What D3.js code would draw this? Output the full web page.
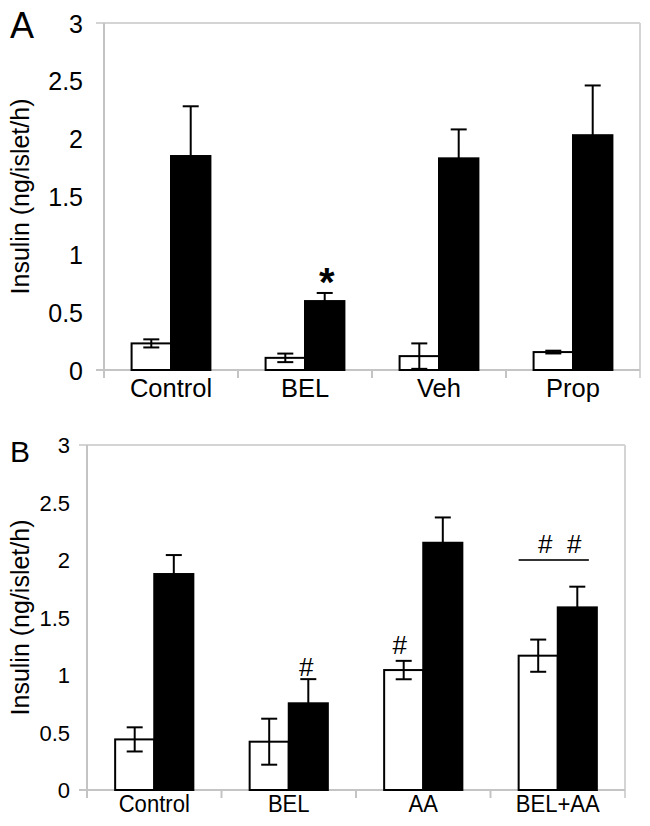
<!DOCTYPE html>
<html>
<head>
<meta charset="utf-8">
<script src="https://cdn.jsdelivr.net/npm/d3@7"></script>
<style>
  html, body { margin: 0; padding: 0; background: #fff; }
  svg { display: block; }
  text { font-family: "Liberation Sans", Arial, sans-serif; fill: #000; }
</style>
</head>
<body>
<svg id="chart" width="650" height="826"></svg>
<script>
// ---------- data ----------
const seriesKeys = ["basal", "stim"];
const yTicks = [0, 0.5, 1, 1.5, 2, 2.5, 3];
const yLabel = "Insulin (ng/islet/h)";

const catsA = ["Control", "BEL", "Veh", "Prop"];
const basalA = [0.23, 0.105, 0.12, 0.155];
const basalErrA = [0.035, 0.037, 0.11, 0.012];
const stimA = [1.85, 0.596, 1.83, 2.03];
const stimErrA = [0.43, 0.07, 0.25, 0.43];
const marksA = [{ cat: "BEL", series: "stim", text: "*" }];

const catsB = ["Control", "BEL", "AA", "BEL+AA"];
const basalB = [0.44, 0.42, 1.043, 1.168];
const basalErrB = [0.105, 0.2, 0.08, 0.14];
const stimB = [1.878, 0.754, 2.15, 1.588];
const stimErrB = [0.165, 0.21, 0.22, 0.18];
const marksB = [
  { cat: "BEL", series: "stim", text: "#" },
  { cat: "AA", series: "basal", text: "#" }
];
const groupMarkB = { cat: "BEL+AA", level: 2.0, text: "#\u00a0\u00a0#" };

// ---------- drawing ----------
const svg = d3.select("#chart");

function panel(cfg) {
  const g = svg.append("g");
  const x0 = d3.scaleBand().domain(cfg.cats).range([cfg.left, cfg.right]).paddingInner(0).paddingOuter(0);
  const x1 = d3.scaleBand().domain(seriesKeys).range([0, x0.bandwidth()]).paddingInner(0).paddingOuter(cfg.outerPad);
  const y = d3.scaleLinear().domain([0, 3]).range([cfg.bottom, cfg.top]);

  // frame (light gray)
  g.append("line").attr("x1", cfg.left - 8).attr("x2", cfg.right).attr("y1", y(3)).attr("y2", y(3))
    .attr("stroke", "#d4d4d4").attr("stroke-width", 2);
  g.append("line").attr("x1", cfg.right).attr("x2", cfg.right).attr("y1", y(3)).attr("y2", cfg.bottom + 8)
    .attr("stroke", "#d4d4d4").attr("stroke-width", 2);
  g.append("line").attr("x1", cfg.left).attr("x2", cfg.left).attr("y1", y(3)).attr("y2", cfg.bottom + 8)
    .attr("stroke", "#c4c4c4").attr("stroke-width", 2);
  g.append("line").attr("x1", cfg.left - 8).attr("x2", cfg.right).attr("y1", y(0)).attr("y2", y(0))
    .attr("stroke", "#c4c4c4").attr("stroke-width", 2);
  // category boundary ticks
  g.selectAll(".xt").data(cfg.cats.slice(1)).enter().append("line")
    .attr("x1", d => x0(d)).attr("x2", d => x0(d))
    .attr("y1", y(0)).attr("y2", y(0) + 8)
    .attr("stroke", "#c4c4c4").attr("stroke-width", 2);

  // y tick labels via axis
  const ax = g.append("g").attr("transform", `translate(${cfg.left},0)`)
    .call(d3.axisLeft(y).tickValues(yTicks).tickSize(0).tickPadding(cfg.tickPad).tickFormat(d3.format("")));
  ax.select(".domain").remove();
  ax.selectAll("text").style("font-family", '"Liberation Sans", Arial, sans-serif')
    .style("font-size", cfg.tickFont + "px").attr("fill", "#000").attr("dy", "0.36em");

  // y label
  g.append("text")
    .attr("transform", `translate(${cfg.titleX},${(y(0) + y(3)) / 2 + cfg.titleDy}) rotate(-90)`)
    .attr("text-anchor", "middle").style("font-size", "25px").text(yLabel);

  // panel letter
  g.append("text").attr("x", 10).attr("y", cfg.letterY).style("font-size", cfg.letterFont + "px").text(cfg.letter);

  // bars
  const rows = cfg.cats.map((c, i) => ({
    cat: c,
    basal: cfg.basal[i], basalErr: cfg.basalErr[i],
    stim: cfg.stim[i], stimErr: cfg.stimErr[i]
  }));
  const bw = x1.bandwidth();
  rows.forEach(r => {
    seriesKeys.forEach(k => {
      const xl = x0(r.cat) + x1(k);
      const v = r[k], e = r[k + "Err"];
      g.append("rect").attr("x", xl).attr("y", y(v)).attr("width", bw).attr("height", y(0) - y(v))
        .attr("fill", k === "basal" ? "#fff" : "#000").attr("stroke", "#000").attr("stroke-width", 2);
      const xc = xl + bw / 2;
      g.append("line").attr("x1", xc).attr("x2", xc).attr("y1", y(v - e)).attr("y2", y(v + e))
        .attr("stroke", "#000").attr("stroke-width", 2);
      [v + e, v - e].forEach(t => {
        g.append("line").attr("x1", xc - 8).attr("x2", xc + 8).attr("y1", y(t)).attr("y2", y(t))
          .attr("stroke", "#000").attr("stroke-width", 2);
      });
    });
  });

  // category labels
  g.selectAll(".cl").data(cfg.cats).enter().append("text")
    .attr("transform", d => `translate(${x0(d) + x0.bandwidth() / 2},${cfg.catY}) scale(${cfg.catScale},1)`)
    .attr("text-anchor", "middle").style("font-size", cfg.catFont + "px").text(d => d);

  return { g, x0, x1, y, rows, bw };
}

// Panel A
const A = panel({
  cats: catsA, basal: basalA, basalErr: basalErrA, stim: stimA, stimErr: stimErrA,
  left: 104, right: 640, top: 23, bottom: 370, outerPad: 0.7,
  tickPad: 21, tickFont: 25, titleX: 29, titleDy: 0, letter: "A", letterY: 38, letterFont: 36,
  catY: 397, catFont: 25.5, catScale: 1
});
marksA.forEach(m => {
  const i = catsA.indexOf(m.cat);
  const v = m.series === "stim" ? stimA[i] + stimErrA[i] : basalA[i] + basalErrA[i];
  A.g.append("text").attr("x", A.x0(m.cat) + A.x1(m.series) + A.bw / 2 + 2).attr("y", A.y(v) + 3)
    .attr("text-anchor", "middle").style("font-size", "40px").style("font-weight", "bold").text(m.text);
});

// Panel B
const B = panel({
  cats: catsB, basal: basalB, basalErr: basalErrB, stim: stimB, stimErr: stimErrB,
  left: 87, right: 625, top: 445, bottom: 790, outerPad: 0.72,
  tickPad: 17, tickFont: 22, titleX: 29, titleDy: 0, letter: "B", letterY: 462, letterFont: 30,
  catY: 812, catFont: 24, catScale: 0.92
});
marksB.forEach(m => {
  const i = catsB.indexOf(m.cat);
  const v = m.series === "stim" ? stimB[i] + stimErrB[i] : basalB[i] + basalErrB[i];
  const off = m.series === "stim" ? 3 : 7;
  const dx = m.series === "stim" ? -2 : -4;
  B.g.append("text").attr("x", B.x0(m.cat) + B.x1(m.series) + B.bw / 2 + dx).attr("y", B.y(v) - off)
    .attr("text-anchor", "middle").style("font-size", "26px").text(m.text);
});
{
  const xs = B.x0(groupMarkB.cat) + B.x1("basal");
  const xe = B.x0(groupMarkB.cat) + B.x1("stim") + B.bw - 8;
  B.g.append("line").attr("x1", xs).attr("x2", xe).attr("y1", B.y(groupMarkB.level)).attr("y2", B.y(groupMarkB.level))
    .attr("stroke", "#333").attr("stroke-width", 2);
  B.g.append("text").attr("x", (xs + xe) / 2 + 6).attr("y", B.y(groupMarkB.level) - 7)
    .attr("text-anchor", "middle").style("font-size", "26px").text(groupMarkB.text);
}
</script>
</body>
</html>
